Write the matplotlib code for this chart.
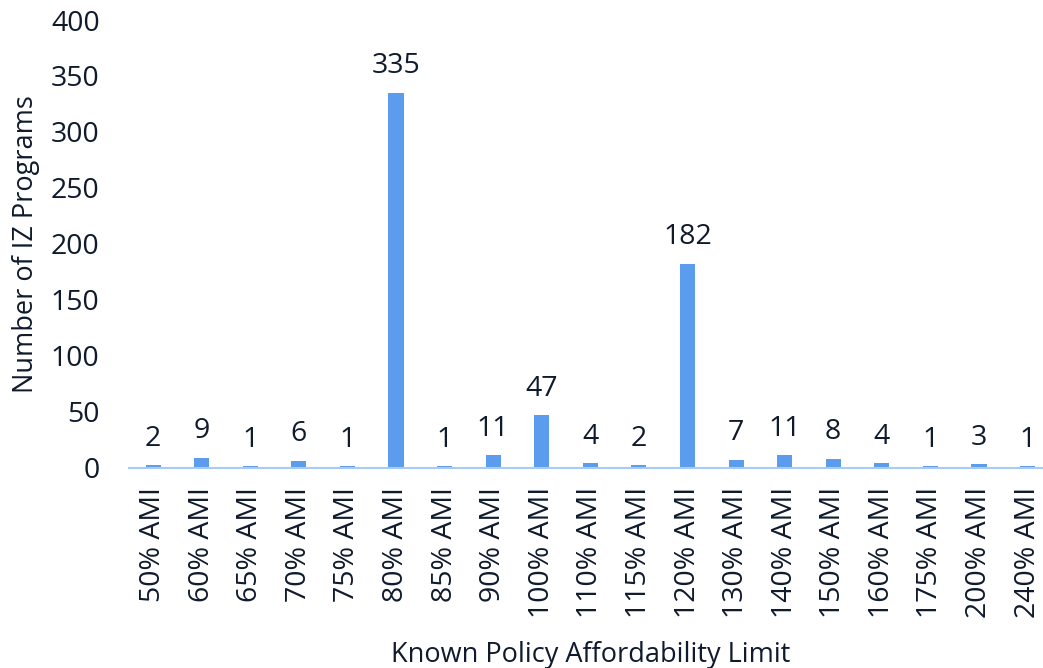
import matplotlib
matplotlib.use("Agg")
import matplotlib.pyplot as plt

categories = ["50% AMI", "60% AMI", "65% AMI", "70% AMI", "75% AMI", "80% AMI",
              "85% AMI", "90% AMI", "100% AMI", "110% AMI", "115% AMI", "120% AMI",
              "130% AMI", "140% AMI", "150% AMI", "160% AMI", "175% AMI", "200% AMI",
              "240% AMI"]
programs = [2, 9, 1, 6, 1, 335, 1, 11, 47, 4, 2, 182, 7, 11, 8, 4, 1, 3, 1]
y_ticks = [0, 50, 100, 150, 200, 250, 300, 350, 400]

plt.rcParams['font.family'] = ['Open Sans', 'DejaVu Sans']
text_color = "#0f1b2d"
bar_color = "#5b9cef"

fig = plt.figure(figsize=(10.43, 6.68), dpi=100)
ax = fig.add_axes([0.1235, 0.3, 0.885, 0.67])

x = range(len(categories))
bars = ax.bar(x, programs, width=0.31, color=bar_color, zorder=2)

# value on top of every bar
for xi, v in zip(x, programs):
    ax.annotate(str(v), (xi, v), xytext=(0, 9), textcoords="offset points",
                ha="center", va="bottom", fontsize=20.5, color=text_color)

ax.set_xlim(-0.5, len(categories) - 0.5)
ax.set_ylim(0, 400)
ax.set_yticks(y_ticks)
ax.set_xticks(list(x))
ax.set_xticklabels(categories, rotation=90)
ax.tick_params(axis="both", length=0, labelsize=20.5, colors=text_color)
ax.tick_params(axis="y", pad=21)
ax.tick_params(axis="x", pad=14)

for side in ["top", "right", "left"]:
    ax.spines[side].set_visible(False)
ax.spines["bottom"].set_color("#a9cbf3")
ax.spines["bottom"].set_linewidth(1.5)

ax.set_xlabel("Known Policy Affordability Limit", fontsize=19.5, color=text_color, labelpad=16)
ax.set_ylabel("Number of IZ Programs", fontsize=19.5, color=text_color, labelpad=8)

fig.savefig("out.png", dpi=100)
